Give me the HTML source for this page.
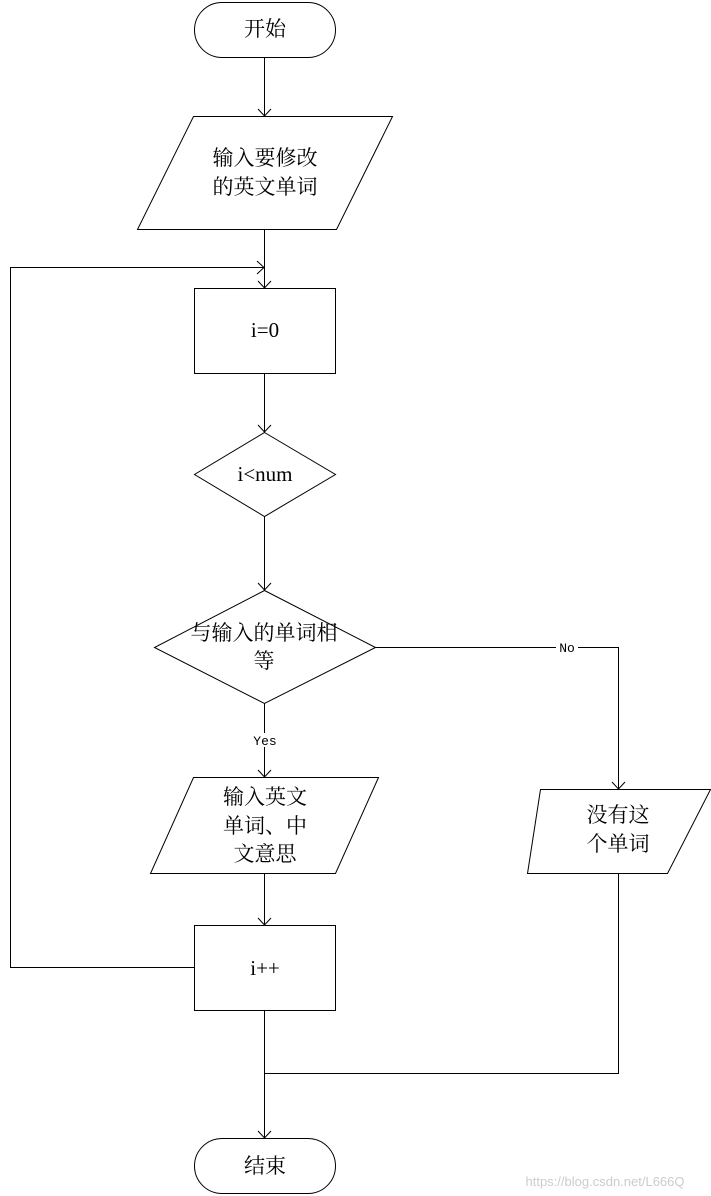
<!DOCTYPE html>
<html><head><meta charset="utf-8"><style>
html,body{margin:0;padding:0;background:#fff;}
svg{display:block;}
text{font-family:"Liberation Serif","Noto Serif CJK SC",serif;font-size:21px;fill:#000;text-anchor:middle;}
.s{font-family:"Liberation Mono","Noto Sans CJK SC",monospace;font-size:13px;}
</style></head><body>
<svg width="711" height="1196" viewBox="0 0 711 1196" xmlns="http://www.w3.org/2000/svg">
<defs><marker id="a" markerWidth="12" markerHeight="12" refX="6" refY="10" orient="auto" markerUnits="userSpaceOnUse">
</marker></defs>
<g fill="#fff" stroke="#000" stroke-width="1">
<rect x="194.5" y="2.5" width="141" height="55" rx="27.5"/>
<polygon points="193.5,116.5 392.5,116.5 336.5,229.5 137.5,229.5"/>
<rect x="194.5" y="288.5" width="141" height="85"/>
<polygon points="264.5,432.5 335.5,474.5 264.5,516.5 194.5,474.5"/>
<polygon points="264.5,590.5 375.5,647.5 264.5,703.5 154.5,647.5"/>
<polygon points="193.5,777.5 378.5,777.5 335.5,873.5 150.5,873.5"/>
<polygon points="540.5,789.5 710.5,789.5 667.5,873.5 527.5,873.5"/>
<rect x="194.5" y="925.5" width="141" height="85"/>
<rect x="194.5" y="1138.5" width="141" height="55" rx="27.5"/>
</g>
<g fill="none" stroke="#000" stroke-width="1">
<path d="M264.5 57.5V116"/><path d="M258 109l6.5 7 6.5-7"/>
<path d="M264.5 229.5V288"/><path d="M258 281l6.5 7 6.5-7"/>
<path d="M194.5 967.5H10.5V267.5H264"/><path d="M257 261l7 6.5-7 6.5"/>
<path d="M264.5 373.5V432"/><path d="M258 425l6.5 7 6.5-7"/>
<path d="M264.5 516.5V590"/><path d="M258 583l6.5 7 6.5-7"/>
<path d="M375.5 647.5H618.5V789"/><path d="M612 782l6.5 7 6.5-7"/>
<path d="M264.5 703.5V777"/><path d="M258 770l6.5 7 6.5-7"/>
<path d="M264.5 873.5V925"/><path d="M258 918l6.5 7 6.5-7"/>
<path d="M264.5 1010.5V1138"/><path d="M258 1131l6.5 7 6.5-7"/>
<path d="M618.5 873.5V1073.5H264.5"/>
</g>
<rect x="556" y="640" width="22" height="14" fill="#fff"/>
<text class="s" x="567" y="652">No</text>
<rect x="250" y="733" width="30" height="14" fill="#fff"/>
<text class="s" x="265" y="745">Yes</text>
<text x="265" y="36">开始</text>
<text x="265" y="165">输入要修改</text>
<text x="265" y="194">的英文单词</text>
<text x="265" y="337">i=0</text>
<text x="265" y="481">i&lt;num</text>
<text x="264" y="640">与输入的单词相</text>
<text x="264" y="668">等</text>
<text x="265" y="804">输入英文</text>
<text x="265" y="833">单词、中</text>
<text x="265" y="861">文意思</text>
<text x="618" y="822">没有这</text>
<text x="618" y="851">个单词</text>
<text x="265" y="975">i++</text>
<text x="265" y="1173">结束</text>
<text x="605" y="1186" style="font-family:'Liberation Sans',sans-serif;font-size:13px;fill:#ccc">https://blog.csdn.net/L666Q</text>
</svg>
</body></html>
